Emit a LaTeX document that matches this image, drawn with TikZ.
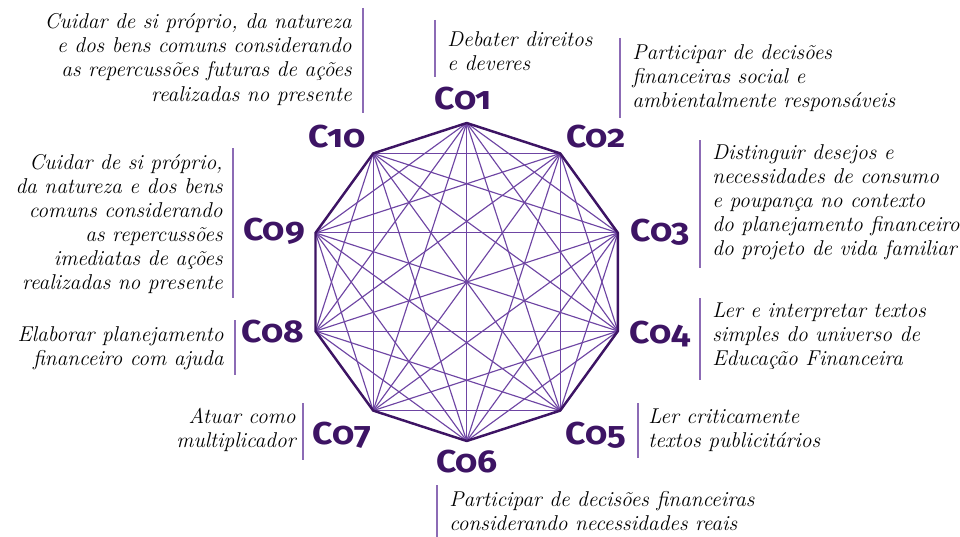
\documentclass[tikz,border=0pt]{standalone}
\usepackage{fontspec}
\usepackage{tikz}
\usepackage{color}
\newfontfamily\colabelfont[Numbers=OldStyle]{Fira Sans}
\newcommand{\colabeltext}[1]{\scalebox{1.12}[1]{#1}}
\definecolor{coPurple}{HTML}{3D1464}
\definecolor{chordPurple}{HTML}{6E45A3}
\definecolor{barPurple}{HTML}{8C6BB5}

\tikzset{
  colabel/.style={inner sep=0pt,anchor=base,text=coPurple,font=\colabelfont\bfseries\fontsize{18}{18}\selectfont},
  codesc/.style={inner sep=0pt,font=\itshape\fontsize{12.2}{13.7}\selectfont},
  chord/.style={draw=chordPurple,line width=0.65pt},
  rim/.style={draw=coPurple,line width=1.4pt,line join=round},
  bar/.style={draw=barPurple,line width=0.8pt}
}

\begin{document}
\begin{tikzpicture}[x=0.02cm,y=-0.02cm]
        \useasboundingbox (0,0) rectangle (960,537);

        \coordinate (v1) at (466.7,123);
        \coordinate (v2) at (560.2,153.4);
        \coordinate (v3) at (617.9,232.9);
        \coordinate (v4) at (617.9,331.1);
        \coordinate (v5) at (560.2,410.6);
        \coordinate (v6) at (466.7,441);
        \coordinate (v7) at (373.2,410.6);
        \coordinate (v8) at (315.5,331.1);
        \coordinate (v9) at (315.5,232.9);
        \coordinate (v10) at (373.2,153.4);

        \foreach \i in {1,...,9}{
            \pgfmathtruncatemacro\k{\i+1}
            \foreach \j in {\k,...,10}
                \draw[chord] (v\i) -- (v\j);
        }
        \draw[rim] (v1) -- (v2) -- (v3) -- (v4) -- (v5) -- (v6) -- (v7) -- (v8) -- (v9) -- (v10) -- cycle;

        \node[colabel] (C01) at (463,110) {\colabeltext{C01}};
        \node[colabel] (C02) at (596,148) {\colabeltext{C02}};
        \node[colabel] (C03) at (660,241) {\colabeltext{C03}};
        \node[colabel] (C04) at (660,343) {\colabeltext{C04}};
        \node[colabel] (C05) at (596,444) {\colabeltext{C05}};
        \node[colabel] (C06) at (467,472) {\colabeltext{C06}};
        \node[colabel] (C07) at (342,444) {\colabeltext{C07}};
        \node[colabel] (C08) at (273,342) {\colabeltext{C08}};
        \node[colabel] (C09) at (274,240) {\colabeltext{C09}};
        \node[colabel] (C10) at (337,148) {\colabeltext{C10}};

        \node[codesc,anchor=west,align=left] (d01) at (447,51.5) {Debater direitos\\e deveres};
        \node[codesc,anchor=west,align=left] (d02) at (632,78.5) {Participar de decisões\\financeiras social e\\ambientalmente responsáveis};
        \node[codesc,anchor=west,align=left] (d03) at (712,202.5) {Distinguir desejos e\\necessidades de consumo\\e poupança no contexto\\do planejamento financeiro\\do projeto de vida familiar};
        \node[codesc,anchor=west,align=left] (d04) at (712,336) {Ler e interpretar textos\\simples do universo de\\Educação Financeira};
        \node[codesc,anchor=west,align=left] (d05) at (648,430) {Ler criticamente\\textos publicitários};
        \node[codesc,anchor=west,align=left] (d06) at (449,511.5) {Participar de decisões financeiras\\considerando necessidades reais};
        \node[codesc,anchor=east,align=right] (d07) at (296,430) {Atuar como\\multiplicador};
        \node[codesc,anchor=east,align=right] (d08) at (224,348) {Elaborar planejamento\\financeiro com ajuda};
        \node[codesc,anchor=east,align=right] (d09) at (223,224) {Cuidar de si próprio,\\da natureza e dos bens\\comuns considerando\\as repercussões\\imediatas de ações\\realizadas no presente};
        \node[codesc,anchor=east,align=right] (d10) at (352,59.5) {Cuidar de si próprio, da natureza\\e dos bens comuns considerando\\as repercussões futuras de ações\\realizadas no presente};

        \draw[bar] (435,20) -- (435,77);
        \draw[bar] (620,38) -- (620,118);
        \draw[bar] (700,140) -- (700,268);
        \draw[bar] (700,298) -- (700,380);
        \draw[bar] (638,403) -- (638,458);
        \draw[bar] (437,485) -- (437,537);
        \draw[bar] (303,403) -- (303,460);
        \draw[bar] (235,320) -- (235,375);
        \draw[bar] (233,148) -- (233,298);
        \draw[bar] (363,8) -- (363,113);
    \end{tikzpicture}
\end{document}
